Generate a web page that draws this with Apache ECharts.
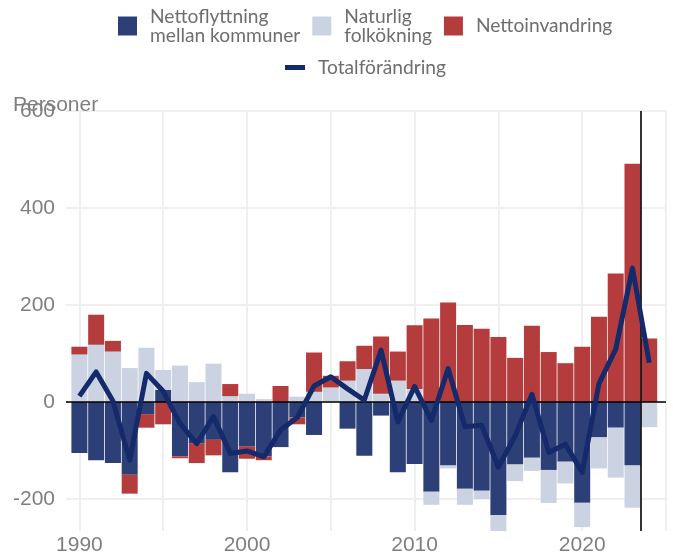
<!DOCTYPE html>
<html>
<head>
<meta charset="utf-8">
<script src="https://cdn.jsdelivr.net/npm/echarts@6/dist/echarts.min.js"></script>
<style>
html,body{margin:0;padding:0;background:#fff;}
#chart{width:673px;height:559px;}
</style>
</head>
<body>
<div id="chart"></div>
<script>
const years = [1990,1991,1992,1993,1994,1995,1996,1997,1998,1999,2000,2001,2002,2003,2004,2005,2006,2007,2008,2009,2010,2011,2012,2013,2014,2015,2016,2017,2018,2019,2020,2021,2022,2023,2024];
const nettoflyttning = [-105,-120,-126,-150,-25,25,-112,-86,-78,-145,-91,-112,-93,-32,-68,0,-55,-111,-28,-145,-128,-185,-131,-179,-183,-233,-129,-115,-140,-123,-208,-73,-53,-131,0];
const naturlig = [98,118,104,70,112,41,75,41,79,12,17,6,0,11,21,30,44,68,17,44,27,-27,-6,-33,-17,-35,-34,-27,-68,-45,-50,-64,-103,-87,-52];
const nettoinvandring = [16,62,22,-39,-28,-46,-4,-40,-32,25,-26,-8,33,-14,81,24,40,48,118,60,131,172,205,159,151,134,91,157,103,80,114,176,265,491,131];
const total = [12,62,2,-120,59,22,-44,-86,-30,-106,-101,-113,-58,-32,33,52,27,4,107,-41,32,-38,69,-51,-48,-134,-70,16,-104,-87,-145,38,109,276,81];
const xLabelValues = [1990,2000,2010,2020];
const xGridValues = [1990,1995,2000,2005,2010,2015,2020,2025];
const yTickValues = [-200,0,200,400,600];
const markYear = 2023.5;

const names = {
  flytt: 'Nettoflyttning mellan kommuner',
  nat: 'Naturlig folkökning',
  inv: 'Nettoinvandring',
  tot: 'Totalförändring'
};
const legendLabels = {};
legendLabels[names.flytt] = 'Nettoflyttning\nmellan kommuner';
legendLabels[names.nat] = 'Naturlig\nfolkökning';
legendLabels[names.inv] = 'Nettoinvandring';
legendLabels[names.tot] = 'Totalförändring';

// x extent of the main (value) axis
const X_MIN = 1989.2, X_MAX = 2025;
const Y_MIN = -266, Y_MAX = 600;
const GRID_L = 66, GRID_R = 7, GRID_T = 111, GRID_B = 28, W = 673;
const pxPerYear = (W - GRID_L - GRID_R) / (X_MAX - X_MIN);
// bar grid spans exactly the category bands of the years
const barGridLeft = GRID_L + (years[0] - 0.5 - X_MIN) * pxPerYear;
const barGridRight = GRID_R + (X_MAX - (years[years.length - 1] + 0.5)) * pxPerYear;

const axisFont = 'Liberation Sans, Arial, sans-serif';
const legendText = {fontFamily: 'Lato, sans-serif', fontSize: 19.2, color: '#6e6e6e', lineHeight: 19, padding: [0, 0, 0, 8]};

const chart = echarts.init(document.getElementById('chart'), null, {renderer: 'canvas'});
chart.setOption({
  animation: false,
  backgroundColor: '#ffffff',
  title: {
    text: 'Personer', left: 13, top: 95, padding: 0,
    textStyle: {fontFamily: axisFont, fontSize: 21, fontWeight: 'normal', color: '#7f7f7f'}
  },
  legend: [
    {
      data: [names.flytt, names.nat, names.inv],
      left: 118, top: 7, padding: 0,
      icon: 'rect', itemWidth: 19, itemHeight: 19, itemGap: 12,
      formatter: n => legendLabels[n],
      textStyle: legendText,
      selectedMode: false
    },
    {
      data: [names.tot],
      left: 285, top: 58, padding: 0,
      icon: 'rect', itemWidth: 20, itemHeight: 5,
      formatter: n => legendLabels[n],
      textStyle: legendText,
      selectedMode: false
    }
  ],
  grid: [
    {left: GRID_L, right: GRID_R, top: GRID_T, bottom: GRID_B, containLabel: false},
    {left: barGridLeft, right: barGridRight, top: GRID_T, bottom: GRID_B, containLabel: false}
  ],
  xAxis: [
    {
      type: 'value', gridIndex: 0, min: X_MIN, max: X_MAX,
      axisLine: {show: false},
      axisTick: {show: false, customValues: xGridValues},
      axisLabel: {customValues: xLabelValues, fontFamily: axisFont, fontSize: 21, color: '#7f7f7f', margin: 4, formatter: v => String(v)},
      splitLine: {show: true, lineStyle: {color: '#efefef', width: 2}}
    },
    {
      type: 'category', gridIndex: 1, data: years, boundaryGap: true,
      axisLine: {show: false}, axisTick: {show: false}, axisLabel: {show: false}, splitLine: {show: false}
    }
  ],
  yAxis: [
    {
      type: 'value', gridIndex: 0, min: Y_MIN, max: Y_MAX,
      axisLine: {show: false},
      axisTick: {show: false, customValues: yTickValues},
      axisLabel: {customValues: yTickValues, fontFamily: axisFont, fontSize: 21, color: '#7f7f7f', margin: 11},
      splitLine: {show: true, lineStyle: {color: '#efefef', width: 2}}
    },
    {
      type: 'value', gridIndex: 1, min: Y_MIN, max: Y_MAX,
      axisLine: {show: false}, axisTick: {show: false}, axisLabel: {show: false}, splitLine: {show: false}
    }
  ],
  series: [
    {
      name: names.flytt, type: 'bar', stack: 'a', barWidth: 16, xAxisIndex: 1, yAxisIndex: 1,
      itemStyle: {color: '#2c3f76'}, data: nettoflyttning
    },
    {
      name: names.nat, type: 'bar', stack: 'a', barWidth: 16, xAxisIndex: 1, yAxisIndex: 1,
      itemStyle: {color: '#cbd2e1'}, data: naturlig
    },
    {
      name: names.inv, type: 'bar', stack: 'a', barWidth: 16, xAxisIndex: 1, yAxisIndex: 1,
      itemStyle: {color: '#b43c3c'}, data: nettoinvandring
    },
    {
      name: names.tot, type: 'line', z: 5, showSymbol: false, symbol: 'none',
      xAxisIndex: 0, yAxisIndex: 0,
      lineStyle: {color: '#142a6b', width: 5, join: 'round'},
      itemStyle: {color: '#142a6b'},
      data: years.map((y, i) => [y, total[i]]),
      markLine: {
        silent: true, symbol: 'none', label: {show: false}, z: 4,
        lineStyle: {color: '#000000', width: 1.6, type: 'solid'},
        data: [{yAxis: 0}, {xAxis: markYear}]
      }
    }
  ]
});
</script>
</body>
</html>
